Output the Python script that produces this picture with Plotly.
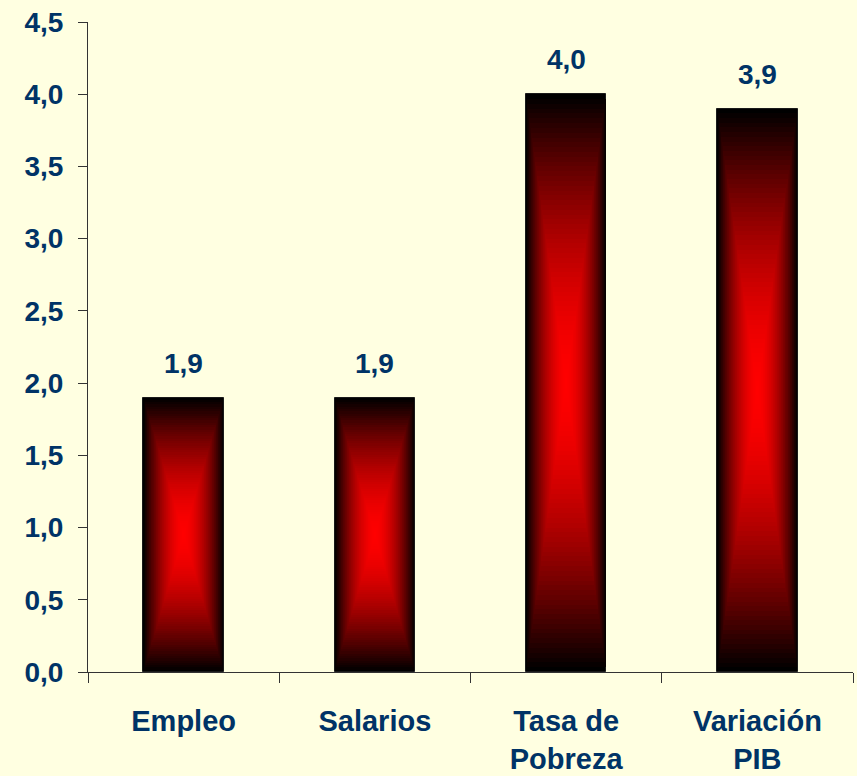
import plotly.graph_objects as go

categories = ["Empleo", "Salarios", "Tasa de<br>Pobreza", "Variación<br>PIB"]
values = [1.9, 1.9, 4.0, 3.9]
y_ticks = [0.0, 0.5, 1.0, 1.5, 2.0, 2.5, 3.0, 3.5, 4.0, 4.5]
y_tick_labels = ["0,0", "0,5", "1,0", "1,5", "2,0", "2,5", "3,0", "3,5", "4,0", "4,5"]

BG = "#FFFFE1"
TXT = "#003366"
FONT = "Liberation Sans, Arial, sans-serif"
BAR_W = 0.42
N = 60

fig = go.Figure()
# nested rectangles approximating a rectangular "from centre" gradient (black edges -> red centre)
for k in range(N):
    s = 1 - k / N
    r = int(round(255 * (1 - s ** 1.7)))
    color = f"rgb({r},0,0)"
    fig.add_trace(go.Bar(
        x=categories,
        y=[v * s for v in values],
        base=[v * (1 - s) / 2 for v in values],
        width=BAR_W * s,
        marker=dict(color=color, line=dict(width=1 if k == 0 else 0, color="#1a1a1a")),
        hoverinfo="skip",
        showlegend=False,
    ))

for c, v in zip(categories, values):
    fig.add_annotation(
        x=c, y=v, text=f"{v:.1f}".replace(".", ","),
        showarrow=False, yanchor="bottom", yshift=17,
        font=dict(family=FONT, size=28, color=TXT, weight="bold"),
    )

fig.update_layout(
    width=857, height=776,
    margin=dict(l=88, r=4, t=22, b=104, autoexpand=False),
    paper_bgcolor=BG, plot_bgcolor=BG,
    barmode="overlay",
    bargap=0,
    showlegend=False,
    font=dict(family=FONT, color=TXT),
)
fig.update_xaxes(
    type="category", automargin=False,
    tickson="boundaries",
    ticks="outside", ticklen=10, tickcolor="#333333", tickwidth=1,
    showline=True, linecolor="#333333", linewidth=1,
    showgrid=False, zeroline=False,
    tickfont=dict(family=FONT, size=29, color=TXT, weight="bold"),
    ticklabelstandoff=23,
)
fig.update_yaxes(
    range=[0, 4.5], automargin=False,
    tickmode="array", tickvals=y_ticks, ticktext=y_tick_labels,
    ticks="outside", ticklen=9, tickcolor="#333333", tickwidth=1,
    showline=True, linecolor="#333333", linewidth=1,
    showgrid=False, zeroline=False,
    tickfont=dict(family=FONT, size=28, color=TXT, weight="bold"),
    ticklabelstandoff=9,
)

fig.write_html(
    "out.html",
    config={"displayModeBar": False},
    post_script="document.body.style.margin='0';document.body.style.backgroundColor='#FFFFE1';",
)
